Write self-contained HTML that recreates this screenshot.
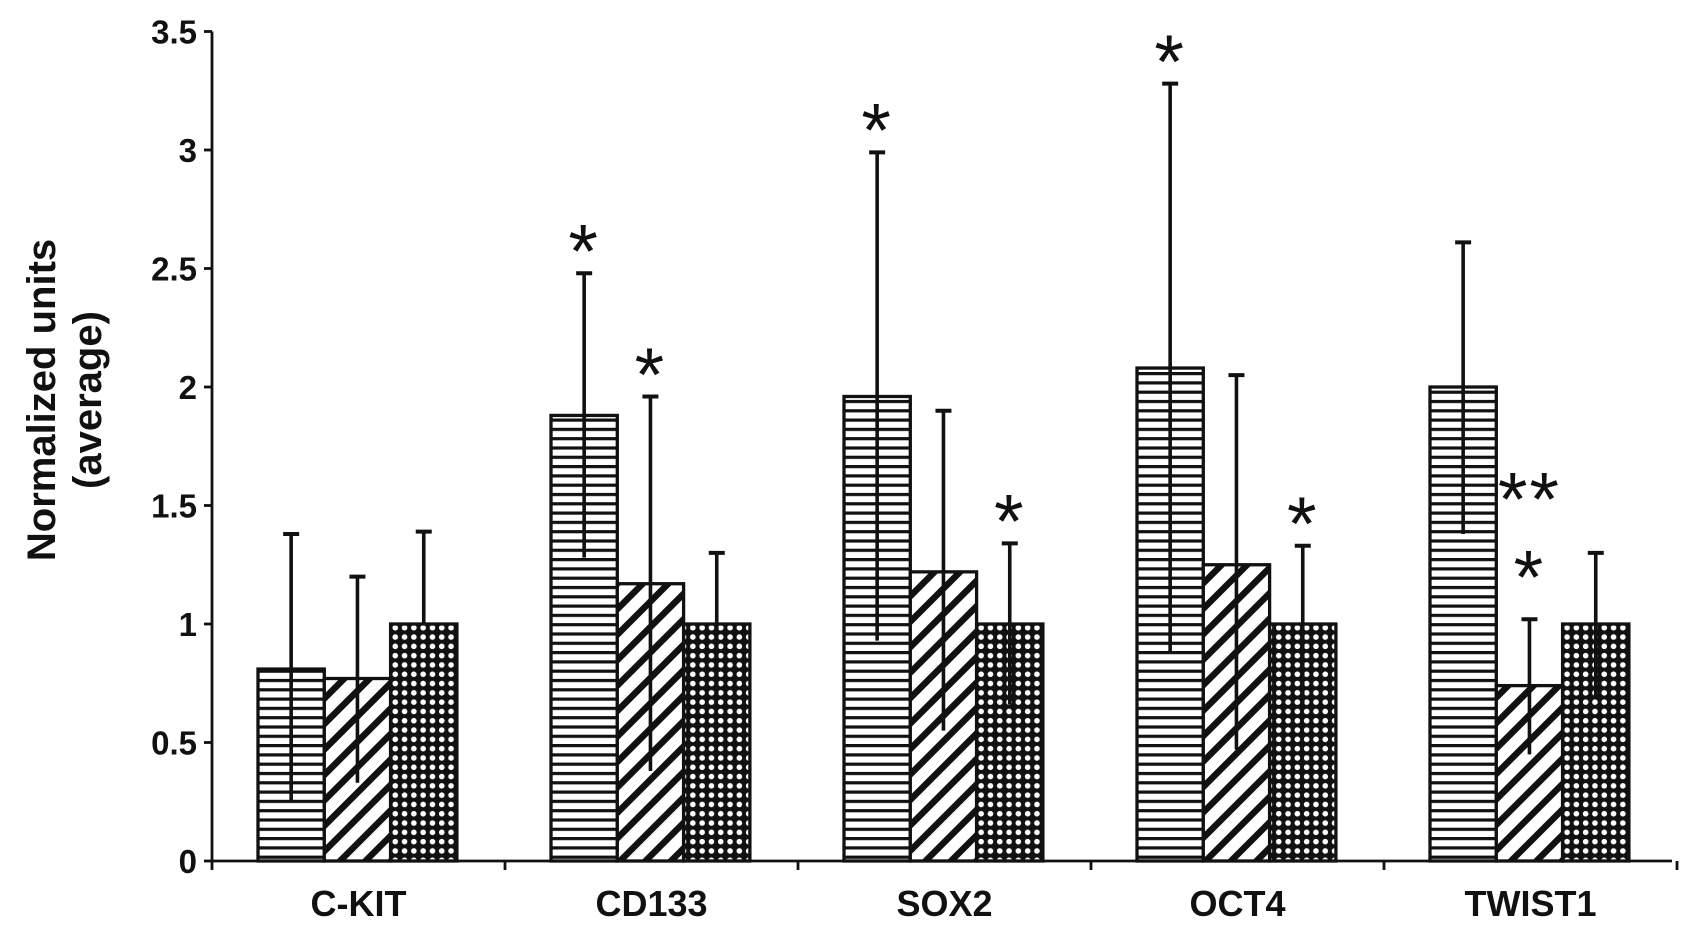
<!DOCTYPE html>
<html><head><meta charset="utf-8"><style>
body{margin:0;background:#fff}
svg{display:block;font-family:"Liberation Sans",Arial,sans-serif}
</style></head><body>
<svg id="chart" width="1701" height="940" viewBox="0 0 1701 940">
<defs>
<pattern id="pH" width="10" height="9.3" patternUnits="userSpaceOnUse"><rect width="10" height="9.3" fill="#fff"/><rect y="0" width="10" height="3.2" fill="#111"/></pattern>
<pattern id="pD" width="18" height="18" patternUnits="userSpaceOnUse" patternTransform="rotate(45)"><rect width="18" height="18" fill="#fff"/><rect width="6.5" height="18" fill="#111"/></pattern>
<pattern id="pG" width="9.3" height="9.3" patternUnits="userSpaceOnUse"><rect width="9.3" height="9.3" fill="#111"/><circle cx="4.65" cy="4.65" r="2.8" fill="#fff"/></pattern>
</defs>
<g id="axes"></g><g id="bars"></g>
</svg>
<script>
const categories=["C-KIT","CD133","SOX2","OCT4","TWIST1"];
const seriesA=[0.81,1.88,1.96,2.08,2.0];
const seriesB=[0.77,1.17,1.22,1.25,0.74];
const seriesC=[1.0,1.0,1.0,1.0,1.0];
const errTopA=[1.38,2.48,2.99,3.28,2.61];
const errTopB=[1.20,1.96,1.90,2.05,1.02];
const errTopC=[1.39,1.30,1.34,1.33,1.30];
const errBotA=[0.25,1.28,0.93,0.88,1.38];
const errBotB=[0.33,0.38,0.55,0.47,0.45];
const errBotC=[1.0,0.69,0.66,0.66,0.69];
const stars=[["","",""],["*","*",""],["*","","*"],["*","","*"],["","**\n*",""]];
const yTicks=[0,0.5,1,1.5,2,2.5,3,3.5];
const NS="http://www.w3.org/2000/svg";
const y0=861,pxU=237,x0=212,x1=1672,grpW=293,barW=66.3,grpStart=258;
const Y=v=>y0-v*pxU;
const X=(g,s)=>grpStart+g*grpW+s*barW;
function mk(t,a,p){const e=document.createElementNS(NS,t);for(const k in a)e.setAttribute(k,a[k]);(p||document.getElementById('bars')).appendChild(e);return e;}
const ax=document.getElementById('axes');
let e=mk('line',{x1:x0,y1:Y(3.5),x2:x0,y2:y0,stroke:'#111','stroke-width':2.8},ax);

e=mk('line',{x1:x0,y1:y0,x2:x1,y2:y0,stroke:'#111','stroke-width':2.8},ax);

yTicks.forEach(v=>{
 mk('line',{x1:x0-8,y1:Y(v),x2:x0,y2:Y(v),stroke:'#111','stroke-width':2.8},ax);
 const t=mk('text',{x:x0-15,y:Y(v)+12,'text-anchor':'end','font-size':33,'font-weight':'bold',fill:'#111'},ax);
 t.textContent=v;
 
});
for(let g=0;g<=categories.length;g++){mk('line',{x1:x0+g*grpW,y1:y0,x2:x0+g*grpW,y2:y0+9,stroke:'#111','stroke-width':2.8},ax);}
categories.forEach((c,g)=>{
 const t=mk('text',{x:x0+g*grpW+grpW/2,y:y0+55,'text-anchor':'middle','font-size':36,'font-weight':'bold',fill:'#111'},ax);
 t.textContent=c;
 
});
const yt=mk('text',{transform:'translate(55,400) rotate(-90)','text-anchor':'middle','font-size':40,'font-weight':'bold',fill:'#111'},ax);

const t1=mk('tspan',{x:0,y:0},yt);t1.textContent='Normalized units';
const t2=mk('tspan',{x:0,y:46},yt);t2.textContent='(average)';
const series=[[seriesA,errTopA,errBotA,'url(#pH)'],[seriesB,errTopB,errBotB,'url(#pD)'],[seriesC,errTopC,errBotC,'url(#pG)']];
const starFs=76;
categories.forEach((c,g)=>{
 series.forEach((s,i)=>{
  const v=s[0][g],x=X(g,i);
  const r=mk('rect',{x:x,y:Y(v),width:barW,height:y0-Y(v),fill:s[3],stroke:'#111','stroke-width':3.3});
  
  const cx=x+barW/2;
  const l=mk('line',{x1:cx,y1:Y(s[1][g]),x2:cx,y2:Y(s[2][g]),stroke:'#111','stroke-width':3.6});
  
  mk('line',{x1:cx-8,y1:Y(s[1][g]),x2:cx+8,y2:Y(s[1][g]),stroke:'#111','stroke-width':4});
  const st=stars[g][i];
  if(st){st.split('\n').forEach((ln,k,arr)=>{
   const off=arr.length>1?(k==0?137:59):39;
   const cy=Y(s[1][g])-off;
   const tt=mk('text',{x:cx,y:cy+0.57*starFs,'text-anchor':'middle','font-size':starFs,fill:'#111','letter-spacing':'2'});
   tt.textContent=ln;
   
  });}
 });
});
</script>
</body></html>
